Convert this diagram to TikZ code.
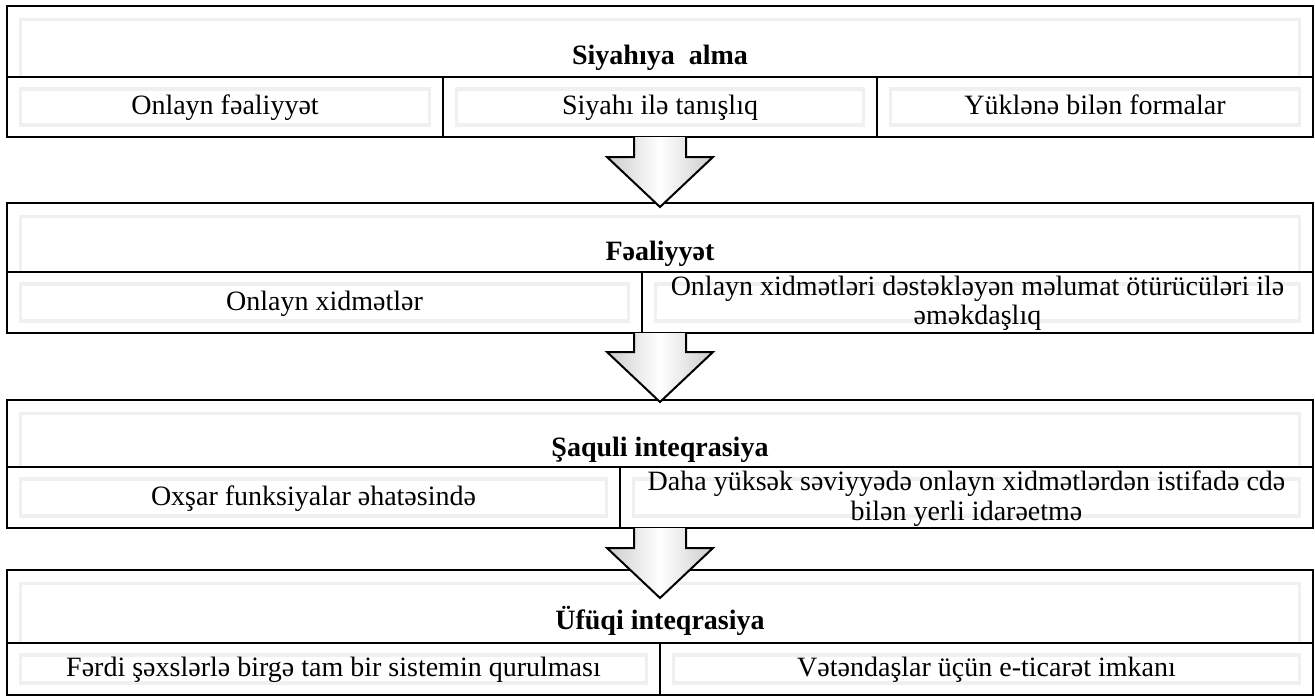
\documentclass[tikz,border=0pt]{standalone}
\usepackage{fontspec}
\setmainfont{Liberation Serif}
\usepackage{tikz}
\usetikzlibrary{positioning,calc}
\tikzset{
  bevel/.style={draw=black!6,line width=2.5pt},
  titlebox/.style={rectangle,draw=black,line width=1.5pt,fill=white,outer sep=0pt,inner sep=0pt,
    anchor=north west,minimum width=979.5pt,font=\fontsize{21}{22}\selectfont\bfseries,
    text height=34pt,text depth=0pt,
    path picture={\draw[bevel] ([xshift=10pt]path picture bounding box.south west)
      |- ([yshift=-10pt]path picture bounding box.north) -| ([xshift=-10pt]path picture bounding box.south east);}},
  cell/.style={rectangle,draw=black,line width=1.5pt,fill=white,outer sep=0pt,inner sep=1pt,
    align=center,font=\fontsize{21}{22}\selectfont,text depth=3pt,
    path picture={\draw[bevel] ([shift={(10pt,-9pt)}]path picture bounding box.north west)
      rectangle ([shift={(-10pt,9pt)}]path picture bounding box.south east);}},
  bigarrow/.style={draw=black,line width=1.5pt,line join=miter,
    left color=black!20,right color=black!20,middle color=white}
}
\newcommand{\flowarrow}[2]{%
  \draw[bigarrow] ($(#1)+(-26,0)$) -- ($(#2)+(-26,-50)$) -- ($(#2)+(-53,-50)$) -- (#2)
    -- ($(#2)+(53,-50)$) -- ($(#2)+(26,-50)$) -- ($(#1)+(26,0)$);}
\begin{document}
\begin{tikzpicture}[x=0.75pt,y=-0.75pt]
\useasboundingbox (0,0) rectangle (1315,700);
\node[titlebox,minimum height=53.25pt] (t1) at (7,6) {Siyahıya\ \ alma};
\node[cell,minimum width=327pt,minimum height=45pt,below right=0pt and 0pt of t1.south west] (s11) {Onlayn fəaliyyət};
\node[cell,minimum width=325.5pt,minimum height=45pt,right=0pt of s11] (s12) {Siyahı ilə tanışlıq};
\node[cell,minimum width=327pt,minimum height=45pt,right=0pt of s12] (s13) {Yüklənə bilən formalar};
\node[titlebox,minimum height=51.75pt] (t2) at (7,203) {Fəaliyyət};
\node[cell,minimum width=476.25pt,minimum height=45.75pt,below right=0pt and 0pt of t2.south west] (s21) {Onlayn xidmətlər};
\node[cell,minimum width=503.25pt,minimum height=45.75pt,right=0pt of s21] (s22) {Onlayn xidmətləri dəstəkləyən məlumat ötürücüləri ilə\\əməkdaşlıq};
\node[titlebox,minimum height=50.25pt] (t3) at (7,400) {Şaquli inteqrasiya};
\node[cell,minimum width=459.75pt,minimum height=45.75pt,below right=0pt and 0pt of t3.south west] (s31) {Oxşar funksiyalar əhatəsində};
\node[cell,minimum width=519.75pt,minimum height=45.75pt,right=0pt of s31] (s32) {Daha yüksək səviyyədə onlayn xidmətlərdən istifadə cdə\\bilən yerli idarəetmə};
\node[titlebox,minimum height=54.75pt] (t4) at (7,570) {Üfüqi inteqrasiya};
\node[cell,minimum width=489.75pt,minimum height=39pt,below right=0pt and 0pt of t4.south west] (s41) {Fərdi şəxslərlə birgə tam bir sistemin qurulması};
\node[cell,minimum width=489.75pt,minimum height=39pt,right=0pt of s41] (s42) {Vətəndaşlar üçün e-ticarət imkanı};
\coordinate (tip1) at ($(t2.north)+(0,4)$);
\coordinate (tip2) at ($(t3.north)+(0,2)$);
\coordinate (tip3) at ($(t4.north)+(0,28)$);
\flowarrow{s12.south}{tip1}
\flowarrow{t2.south |- s21.south}{tip2}
\flowarrow{t3.south |- s31.south}{tip3}
\end{tikzpicture}
\end{document}
